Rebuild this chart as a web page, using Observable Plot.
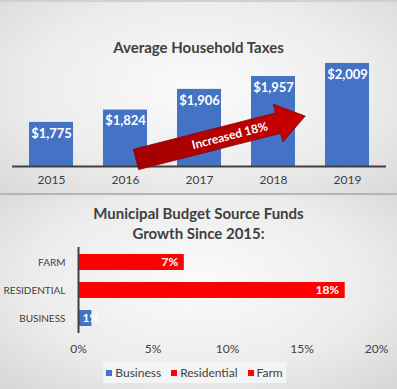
<!DOCTYPE html>
<html>
<head>
<meta charset="utf-8">
<script src="https://cdn.jsdelivr.net/npm/d3@7"></script>
<script src="https://cdn.jsdelivr.net/npm/@observablehq/plot@0.6"></script>
<style>
  html, body { margin: 0; padding: 0; background: #fff; }
  #root { position: relative; width: 397px; height: 389px; overflow: hidden; font-family: Lato, "Open Sans", sans-serif; color: #404040; }
  .panel { position: absolute; left: 0; width: 397px; }
  #top { top: 0; height: 195px; background: radial-gradient(ellipse at 50% 45%, #fbfbfb 0%, #ececec 60%, #d9d9d9 100%); border-bottom: 2px solid #b5b5b5; box-sizing: border-box; border-top: 2px solid #d0d0d0; }
  #bottom { top: 195px; height: 194px; background: radial-gradient(ellipse at 50% 45%, #fbfbfb 0%, #ececec 60%, #d6d6d6 100%); }
  .title { position: absolute; left: 0; width: 397px; text-align: center; font-weight: 700; font-size: 15px; color: #404040; line-height: 20px; }
  .panel svg { position: absolute; left: 0; top: 0; background: transparent; overflow: visible; }
  #legend { position: absolute; left: 103px; top: 167px; width: 183px; height: 21px; background: #f4f4f4; display: flex; align-items: center; justify-content: center; gap: 10px; font-size: 12px; color: #404040; white-space: nowrap; }
  #legend > div { display: flex; align-items: center; flex: none; }
  #legend span.sw { display: inline-block; width: 6px; height: 6px; margin-right: 3px; }
</style>
</head>
<body>
<div id="root">
  <div class="panel" id="top"><div class="title" style="top:35px">Average Household Taxes</div></div>
  <div class="panel" id="bottom">
    <div class="title" style="top:8px">Municipal Budget Source Funds<br>Growth Since 2015:</div>
    <div id="legend"></div>
  </div>
</div>
<script>
// ---- Data ----
const years = ["2015", "2016", "2017", "2018", "2019"];
const taxes = [1775, 1824, 1906, 1957, 2009];
const arrowLabel = "Increased 18%";

const sources = ["FARM", "RESIDENTIAL", "BUSINESS"];
const growth = [7.1, 17.9, 0.9];
const sourceColors = ["#ff0000", "#ff0000", "#4472c4"];
const legendNames = ["Business", "Residential", "Farm"];
const legendColors = ["#4472c4", "#ff0000", "#ff0000"];
const growthTicks = [0, 5, 10, 15, 20];

const font = "Lato, 'Open Sans', sans-serif";

// ---- Top chart ----
const taxData = years.map((y, i) => ({year: y, value: taxes[i]}));
const yMin = 1600;

function arrowMark(index, scales, values, dims) {
  const sx = scales.x, sy = scales.y, bw = sx.bandwidth();
  const x0 = sx("2016") + bw * 0.75, y0 = sy(1626);
  const x1 = sx("2019") - bw * 0.45, y1 = sy(1798);
  const dx = x1 - x0, dy = y1 - y0, L = Math.hypot(dx, dy);
  const ux = dx / L, uy = dy / L, nx = -uy, ny = ux;
  const sw = 10.5, hw = 19.5, hl = 28;
  const p = (a, b) => [x0 + ux * a + nx * b, y0 + uy * a + ny * b];
  const pts = [p(0, -sw), p(L - hl, -sw), p(L - hl, -hw), p(L, 0), p(L - hl, hw), p(L - hl, sw), p(0, sw)];
  const g = d3.create("svg:g");
  const defs = g.append("defs");
  const grad = defs.append("linearGradient").attr("id", "arrowGrad")
    .attr("x1", "0").attr("y1", "0").attr("x2", "1").attr("y2", "0");
  grad.append("stop").attr("offset", "0%").attr("stop-color", "#a00000");
  grad.append("stop").attr("offset", "100%").attr("stop-color", "#c80000");
  g.append("path")
    .attr("d", "M" + pts.map(q => q.join(",")).join("L") + "Z")
    .attr("fill", "url(#arrowGrad)")
    .attr("stroke", "#8a0000").attr("stroke-width", 0.8);
  const angle = Math.atan2(dy, dx) * 180 / Math.PI;
  const c = p((L - hl) * 0.66, 0);
  g.append("text")
    .attr("transform", `translate(${c[0]},${c[1]}) rotate(${angle})`)
    .attr("text-anchor", "middle").attr("dy", "0.36em")
    .attr("fill", "#fff").attr("font-weight", 700).attr("font-size", 12)
    .attr("font-family", font)
    .text(arrowLabel);
  return g.node();
}

const topPlot = Plot.plot({
  width: 397, height: 193,
  marginTop: 38, marginBottom: 29, marginLeft: 12, marginRight: 11,
  style: {background: "transparent", fontFamily: font, fontSize: "12px", color: "#404040"},
  x: {domain: years, paddingInner: 0.41, paddingOuter: 0.205, label: null, tickSize: 0, tickPadding: 9},
  y: {domain: [yMin, 2100], axis: null},
  marks: [
    Plot.barY(taxData, {x: "year", y1: yMin, y2: "value", fill: "#4472c4"}),
    Plot.ruleY([yMin], {stroke: "#404040", strokeWidth: 2}),
    Plot.text(taxData, {x: "year", y: "value", text: d => "$" + d3.format(",")(d.value), dy: 11, fill: "#fff", fontWeight: 700, fontSize: 13}),
    arrowMark
  ]
});
document.getElementById("top").appendChild(topPlot);

// ---- Bottom chart ----
const growthData = sources.map((s, i) => ({source: s, value: growth[i], color: sourceColors[i]}));
const bottomPlot = Plot.plot({
  width: 397, height: 194,
  marginTop: 52, marginBottom: 56, marginLeft: 78, marginRight: 21,
  style: {background: "transparent", fontFamily: font, fontSize: "12px", color: "#404040"},
  x: {domain: [0, 20], ticks: growthTicks, tickFormat: d => d + "%", label: null, tickSize: 0, tickPadding: 11},
  y: {domain: sources, paddingInner: 0.44, paddingOuter: 0.22, label: null, axis: null},
  marks: [
    Plot.barX(growthData, {y: "source", x: "value", fill: "color"}),
    Plot.axisY({tickSize: 0, tickPadding: 13, fontSize: 10, label: null}),
    Plot.ruleX([0], {stroke: "#404040", strokeWidth: 2}),
    Plot.text(growthData.filter(d => d.value >= 3), {y: "source", x: "value", text: d => Math.round(d.value) + "%", textAnchor: "end", dx: -6, fill: "#fff", fontWeight: 700, fontSize: 12}),
    Plot.text(growthData.filter(d => d.value < 3), {y: "source", x: 0, text: d => Math.round(d.value) + "%", textAnchor: "start", dx: 4, fill: "#fff", fontWeight: 700, fontSize: 12})
  ]
});
document.getElementById("bottom").insertBefore(bottomPlot, document.getElementById("legend"));

// ---- Legend ----
const legend = d3.select("#legend");
legendNames.forEach((n, i) => {
  const item = legend.append("div");
  item.append("span").attr("class", "sw").style("background", legendColors[i]);
  item.append("span").text(n);
});
</script>
</body>
</html>
